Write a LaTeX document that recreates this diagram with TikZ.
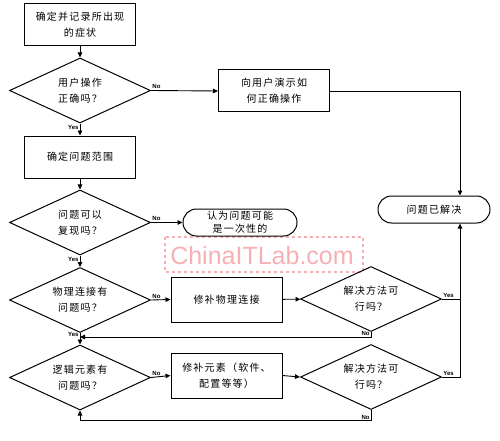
\documentclass[tikz,border=0pt]{standalone}
\usepackage{fontspec}
\newfontfamily\cjk[LetterSpace=12]{Noto Sans CJK SC}
\newfontfamily\wmfont{Liberation Sans}
\newfontfamily\lblfont{Liberation Sans}
\usetikzlibrary{shapes.geometric,arrows.meta,calc}
\definecolor{wmpink}{RGB}{246,176,180}
\begin{document}
\begin{tikzpicture}[x=1pt,y=-1pt,
  box/.style={draw, line width=1pt, rectangle, minimum width=111pt, minimum height=42pt, inner sep=0pt, align=center, font=\cjk\fontsize{10}{16}\selectfont},
  dia/.style={draw, line width=1pt, diamond, aspect=2.17, minimum width=141pt, minimum height=65pt, inner sep=0pt, align=center, font=\cjk\fontsize{10}{16}\selectfont},
  term/.style={draw, line width=1pt, rectangle, rounded corners=13.5pt, minimum width=112pt, minimum height=27pt, inner sep=0pt, align=center, font=\cjk\fontsize{10}{13}\selectfont},
  arr/.style={line width=0.9pt, -{Triangle[length=5pt,width=4.5pt]}},
  ln/.style={line width=0.9pt},
  lbl/.style={font=\lblfont\bfseries\fontsize{6}{7}\selectfont, inner sep=1pt}]
\useasboundingbox (0,0) rectangle (500,441);

% watermark
\draw[dashed, wmpink, line width=1.2pt] (165,237) rectangle (363,272);
\node[text=wmpink, font=\wmfont\fontsize{25}{28}\selectfont, inner sep=0pt] (wm) at (262,256) {ChinaITLab.com};

% nodes
\node[box] (s1) at (80,25) {确定并记录所出现\\的症状};
\node[dia] (d1) at (80,90.5) {用户操作\\正确吗？};
\node[box] (b2) at (274,91) {向用户演示如\\何正确操作};
\node[term] (r1) at (434,209.5) {问题已解决};
\node[box] (s3) at (80,157) {确定问题范围};
\node[dia] (d2) at (80,222.5) {问题可以\\复现吗？};
\node[term, minimum width=114pt] (r2) at (240,222.5) {认为问题可能\\是一次性的};
\node[dia] (d3) at (80,300) {物理连接有\\问题吗？};
\node[box, minimum height=45pt] (b4) at (226.5,299.5) {修补物理连接};
\node[dia] (d4) at (371,299) {解决方法可\\行吗？};
\node[dia] (d5) at (80,377.5) {逻辑元素有\\问题吗？};
\node[box, minimum height=45pt] (b5) at (226.5,375.5) {修补元素（软件、\\配置等等）};
\node[dia] (d6) at (371,377) {解决方法可\\行吗？};

\coordinate (rc) at (460,0);
\coordinate (j1) at (80,337);
\coordinate (j2) at (80,420);

% connectors
\draw[arr] (s1) -- (d1);
\draw[arr] (d1.east) -- node[lbl, pos=0, anchor=south west]{No} (b2.west);
\draw[arr] (d1.south) -- node[lbl, pos=0, anchor=north east]{Yes} (s3.north);
\draw[arr] (b2.east) -| (r1.north -| rc);
\draw[arr] (s3) -- (d2);
\draw[arr] (d2.east) -- node[lbl, pos=0, anchor=south west]{No} (r2.west);
\draw[arr] (d2.south) -- node[lbl, pos=0, anchor=north east]{Yes} (d3.north);
\draw[arr] (d3.east) -- node[lbl, pos=0, anchor=south west]{No} (b4.west);
\draw[arr] (b4) -- (d4);
\draw[ln] (d4.east) -- node[lbl, pos=0, anchor=south west]{Yes} (d4.east -| rc);
\draw[arr] (d4.south) |- node[lbl, pos=0.5, anchor=south east]{No} (j1);
\draw[arr] (d3.south) -- node[lbl, pos=0.15, anchor=east]{Yes} (d5.north);
\draw[arr] (d5.east) -- node[lbl, pos=0, anchor=south west]{No} (b5.west);
\draw[arr] (b5.east) -- (d6.west);
\draw[arr] (d6.east) -- node[lbl, pos=0, anchor=south west]{Yes} (d6.east -| rc) -- (r1.south -| rc);
\draw[arr] (d6.south) |- node[lbl, pos=0.2, anchor=north east]{No} (j2) -- (d5.south);
\end{tikzpicture}
\end{document}
